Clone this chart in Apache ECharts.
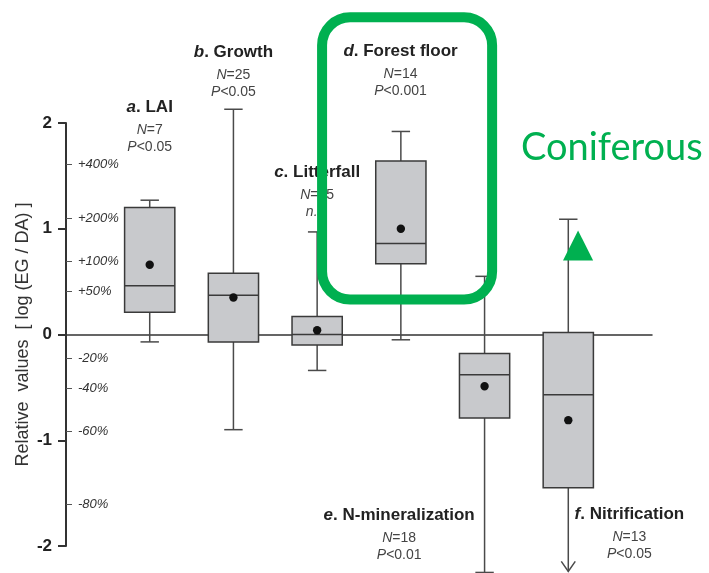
<!DOCTYPE html>
<html>
<head>
<meta charset="utf-8">
<title>Relative values log(EG/DA)</title>
<script src="https://cdn.jsdelivr.net/npm/echarts@6/dist/echarts.min.js"></script>
<style>
  html, body { margin: 0; padding: 0; background: #ffffff; }
  #chart { width: 709px; height: 573px; }
</style>
</head>
<body>
<div id="chart"></div>
<script>
// ---- data (log response ratios, EG vs DA) ----
const panelLetters = ['a', 'b', 'c', 'd', 'e', 'f'];
const panelNames   = ['LAI', 'Growth', 'Litterfall', 'Forest floor', 'N-mineralization', 'Nitrification'];
const sampleSizes  = [7, 25, 25, 14, 18, 13];
const pValues      = ['<0.05', '<0.05', 'n.s.', '<0.001', '<0.01', '<0.05'];

const whiskerLow   = [-0.07, -0.90, -0.34, -0.05, -2.25, -2.24];
const quartileLow  = [0.21, -0.07, -0.10, 0.67, -0.79, -1.45];
const medians      = [0.46, 0.37, 0.00, 0.86, -0.38, -0.57];
const quartileHigh = [1.20, 0.58, 0.17, 1.64, -0.18, 0.02];
const whiskerHigh  = [1.27, 2.13, 0.97, 1.92, 0.55, 1.09];
const means        = [0.66, 0.35, 0.04, 1.00, -0.49, -0.81];
const openEnded    = [false, false, false, false, false, true];

const majorTicks   = [-2, -1, 0, 1, 2];
const percentTicks = [400, 200, 100, 50, -20, -40, -60, -80];

// ---- caption anchors in axis units (panel position, title line) ----
const captionAt = [[1, 2.148], [2, 2.668], [3, 1.533], [3.996, 2.677], [3.98, -1.712], [6.73, -1.703]];

const FONT = '"Liberation Sans", Arial, sans-serif';
const percentValues = percentTicks.map(p => Math.log(1 + p / 100));

const boxData = panelLetters.map((_, i) => [
  i + 1, whiskerLow[i], quartileLow[i], medians[i], quartileHigh[i], whiskerHigh[i], means[i], openEnded[i] ? 1 : 0
]);

function renderBox(params, api) {
  const i = params.dataIndex;
  const x = api.value(0);
  const pMin = api.coord([x, api.value(1)]);
  const pQ1 = api.coord([x, api.value(2)]);
  const pMed = api.coord([x, api.value(3)]);
  const pQ3 = api.coord([x, api.value(4)]);
  const pMax = api.coord([x, api.value(5)]);
  const pMean = api.coord([x, api.value(6)]);
  const arrow = api.value(7) === 1;
  const cx = pMed[0];
  const halfW = api.size([0.6, 0])[0] / 2;
  const capW = api.size([0.11, 0])[0];
  const lineStyle = { stroke: '#4a4a4a', lineWidth: 1.5, fill: null };
  const children = [];

  // upper whisker and cap
  children.push({ type: 'line', shape: { x1: cx, y1: pQ3[1], x2: cx, y2: pMax[1] }, style: lineStyle });
  children.push({ type: 'line', shape: { x1: cx - capW, y1: pMax[1], x2: cx + capW, y2: pMax[1] }, style: lineStyle });
  // lower whisker, cap or open arrow
  children.push({ type: 'line', shape: { x1: cx, y1: pQ1[1], x2: cx, y2: pMin[1] }, style: lineStyle });
  if (arrow) {
    children.push({ type: 'polyline', shape: { points: [[cx - 7, pMin[1] - 10], [cx, pMin[1]], [cx + 7, pMin[1] - 10]] }, style: lineStyle });
  } else {
    children.push({ type: 'line', shape: { x1: cx - capW, y1: pMin[1], x2: cx + capW, y2: pMin[1] }, style: lineStyle });
  }
  // box
  children.push({
    type: 'rect',
    shape: { x: cx - halfW, y: pQ3[1], width: halfW * 2, height: pQ1[1] - pQ3[1] },
    style: { fill: '#c8c9cc', stroke: '#3a3a3a', lineWidth: 1.5 }
  });
  // median
  children.push({ type: 'line', shape: { x1: cx - halfW, y1: pMed[1], x2: cx + halfW, y2: pMed[1] }, style: { stroke: '#3a3a3a', lineWidth: 1.5 } });
  // mean
  children.push({ type: 'circle', shape: { cx: cx, cy: pMean[1], r: 4.2 }, style: { fill: '#111111' } });

  // caption
  const anchor = api.coord(captionAt[i]);
  children.push({
    type: 'text',
    style: {
      x: anchor[0], y: anchor[1],
      text: '{l|' + panelLetters[i] + '}{b|. ' + panelNames[i] + '}',
      align: 'center', verticalAlign: 'middle',
      rich: {
        l: { fontFamily: FONT, fontSize: 17, fontWeight: 'bold', fontStyle: 'italic', fill: '#222' },
        b: { fontFamily: FONT, fontSize: 17, fontWeight: 'bold', fill: '#222' }
      }
    }
  });
  const subRich = {
    i: { fontFamily: FONT, fontSize: 14, fontStyle: 'italic', fill: '#444' },
    r: { fontFamily: FONT, fontSize: 14, fill: '#444' }
  };
  children.push({
    type: 'text',
    style: { x: anchor[0], y: anchor[1] + 23, text: '{i|N}{r|=' + sampleSizes[i] + '}', align: 'center', verticalAlign: 'middle', rich: subRich }
  });
  const pText = pValues[i] === 'n.s.' ? '{i|n.s.}' : '{i|P}{r|' + pValues[i] + '}';
  children.push({
    type: 'text',
    style: { x: anchor[0], y: anchor[1] + 40, text: pText, align: 'center', verticalAlign: 'middle', rich: subRich }
  });

  return { type: 'group', children: children };
}

// highlight frame, trend marker and group label
function renderHighlight(params, api) {
  const tl = api.coord([3.059, 3.0]);
  const br = api.coord([5.09, 0.33]);
  const triTop = api.coord([6.117, 0.984]);
  const triBase = api.coord([6.117, 0.70]);
  const triHalf = api.size([0.18, 0])[0];
  const label = api.coord([6.52, 1.77]);
  return {
    type: 'group',
    children: [
      {
        type: 'rect',
        shape: { x: tl[0], y: tl[1], width: br[0] - tl[0], height: br[1] - tl[1], r: 28 },
        style: { fill: null, stroke: '#00b050', lineWidth: 10 }
      },
      {
        type: 'polygon',
        shape: { points: [[triTop[0], triTop[1]], [triTop[0] - triHalf, triBase[1]], [triTop[0] + triHalf, triBase[1]]] },
        style: { fill: '#00b050' }
      },
      {
        type: 'text',
        style: {
          x: label[0], y: label[1], text: 'Coniferous', align: 'center', verticalAlign: 'middle',
          fontFamily: 'Lato, "Open Sans", sans-serif', fontSize: 38, fill: '#00b050'
        }
      }
    ]
  };
}

const chart = echarts.init(document.getElementById('chart'), null, { renderer: 'canvas' });
chart.setOption({
  animation: false,
  backgroundColor: '#ffffff',
  grid: { left: 66, right: 57, top: 123, bottom: 27, containLabel: false },
  xAxis: {
    type: 'value', min: 0, max: 7,
    axisLine: { show: true, onZero: true, lineStyle: { color: '#333', width: 1.5 } },
    axisTick: { show: false }, axisLabel: { show: false }, splitLine: { show: false }
  },
  yAxis: [
    {
      type: 'value', min: -2, max: 2, interval: 1, position: 'left',
      name: 'Relative  values  [ log (EG / DA) ]',
      nameLocation: 'middle', nameGap: 34, nameMoveOverlap: false,
      nameTextStyle: { fontFamily: FONT, fontSize: 18, color: '#333' },
      axisLine: { show: true, lineStyle: { color: '#333', width: 2 } },
      axisTick: { show: true, length: 8, lineStyle: { color: '#333', width: 2 } },
      axisLabel: {
        margin: 14, fontFamily: FONT, fontSize: 17, fontWeight: 'bold', color: '#222',
        customValues: majorTicks
      },
      splitLine: { show: false }
    },
    {
      type: 'value', min: -2, max: 2, position: 'left',
      axisLine: { show: false },
      axisTick: { show: true, inside: true, length: 6, customValues: percentValues, lineStyle: { color: '#555', width: 1 } },
      axisLabel: {
        inside: true, margin: 12, fontFamily: FONT, fontSize: 13, fontStyle: 'italic', color: '#333',
        customValues: percentValues,
        formatter: v => {
          const p = Math.round((Math.exp(v) - 1) * 100);
          return (p > 0 ? '+' : '') + p + '%';
        }
      },
      splitLine: { show: false }
    }
  ],
  series: [
    {
      type: 'custom', name: 'boxes', coordinateSystem: 'cartesian2d',
      xAxisIndex: 0, yAxisIndex: 0, clip: false, z: 3,
      encode: { x: 0, y: [1, 2, 3, 4, 5] },
      renderItem: renderBox,
      data: boxData
    },
    {
      type: 'custom', name: 'highlight', coordinateSystem: 'cartesian2d',
      xAxisIndex: 0, yAxisIndex: 0, clip: false, z: 10, silent: true,
      renderItem: renderHighlight,
      data: [[4, 1]]
    }
  ]
});
</script>
</body>
</html>
